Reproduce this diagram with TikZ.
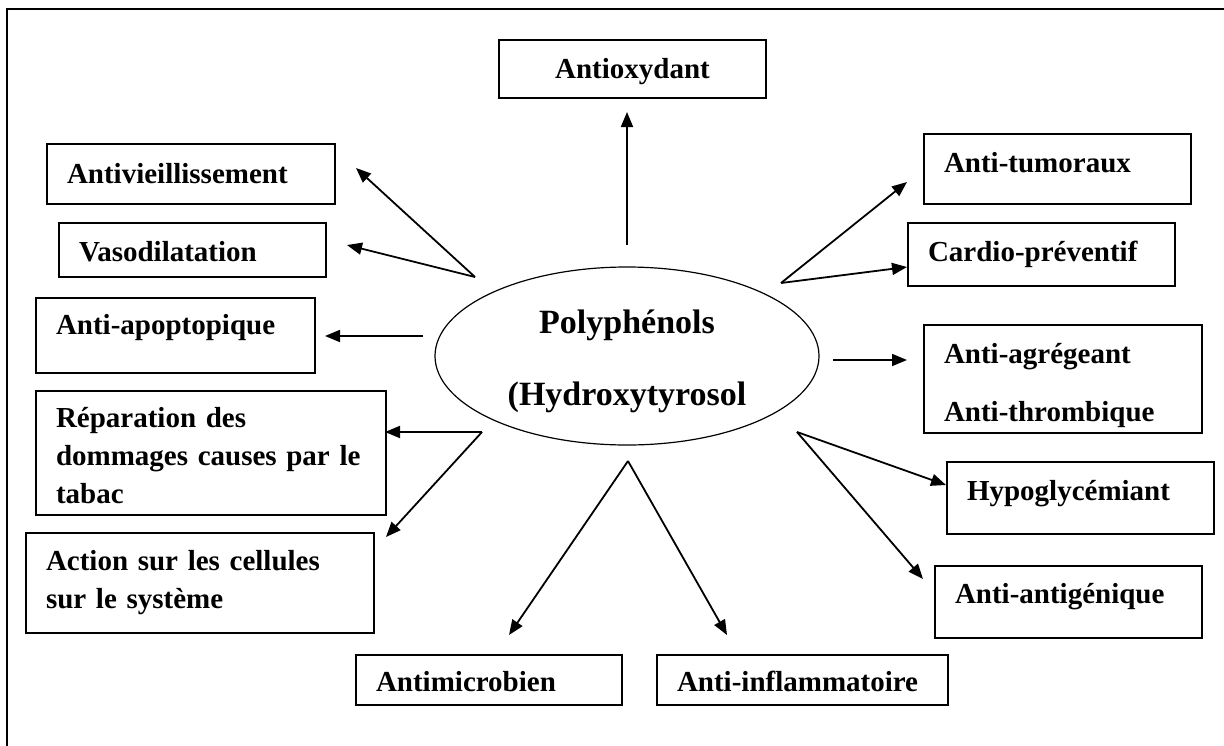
\documentclass[tikz,border=0pt]{standalone}
\usepackage{fontspec}
\setmainfont{Liberation Serif}
\usetikzlibrary{shapes.geometric,arrows.meta}

\begin{document}
\begin{tikzpicture}[x=1pt, y=-1pt,
    box/.style={draw, line width=2pt, anchor=north west, inner xsep=20pt, inner ysep=0pt,
        align=left, font=\bfseries\fontsize{29}{38}\selectfont},
    arr/.style={-{Triangle[length=15pt,width=12pt]}, line width=1.8pt}]
    \useasboundingbox (0,0) rectangle (1224,745);
    \draw[line width=2pt] (7,9) rectangle (1240,760);

    % centre
    \node[ellipse, draw, line width=1.2pt, minimum width=384pt, minimum height=178pt, inner sep=0pt,
        align=center, text width=250pt, text height=26pt, text depth=72pt,
        font=\bfseries\fontsize{34}{38}\selectfont] (poly) at (627,356)
        {Polyphénols\\[34pt](Hydroxytyrosol};

    % left column
    \node[box, text width=248pt, text height=39pt, text depth=21pt] (vie) at (46,143) {Antivieillissement};
    \node[box, text width=227pt, text height=38pt, text depth=16pt] (vaso) at (58,222) {Vasodilatation};
    \node[box, text width=239pt, text height=36pt, text depth=39pt] (apop) at (35,297) {Anti-apoptopique};
    \node[box, text width=310pt, text height=36pt, text depth=88pt] (rep) at (35,390)
        {Réparation des\\dommages causes par le\\tabac};
    \node[box, text width=308pt, text height=37pt, text depth=63pt] (act) at (25,532)
        {Action sur les cellules\\sur le système};

    % top and bottom
    \node[box, align=center, text width=227pt, text height=38pt, text depth=20pt] (ox) at (498,39) {Antioxydant};
    \node[box, text width=226pt, text height=36pt, text depth=14pt] (micro) at (355,654) {Antimicrobien};
    \node[box, text width=251pt, text height=36pt, text depth=14pt] (infl) at (656,654) {Anti-inflammatoire};

    % right column
    \node[box, text width=227pt, text height=38pt, text depth=32pt] (tum) at (923,133) {Anti-tumoraux};
    \node[box, text width=227pt, text height=38pt, text depth=25pt] (card) at (907,222) {Cardio-préventif};
    \node[box, text width=238pt, text height=38pt, text depth=70pt] (agr) at (923,324)
        {Anti-agrégeant\\[20pt]Anti-thrombique};
    \node[box, text width=227pt, text height=38pt, text depth=34pt] (hypo) at (946,461) {Hypoglycémiant};
    \node[box, text width=227pt, text height=37pt, text depth=35pt] (antig) at (934,565) {Anti-antigénique};

    % arrow ends
    \coordinate (fromOx) at (627,245);   \coordinate (toOx) at (627,112);
    \coordinate (fanNW) at (475,277);    \coordinate (toVie) at (356,168);  \coordinate (toVaso) at (347,245);
    \coordinate (fromApop) at (423,336); \coordinate (toApop) at (325,336);
    \coordinate (fanSW) at (482,432);    \coordinate (toRep) at (385,432);  \coordinate (toAct) at (386,537);
    \coordinate (fanS) at (628,461);     \coordinate (toMicro) at (509,635); \coordinate (toInfl) at (727,635);
    \coordinate (fanSE) at (797,432);    \coordinate (toHypo) at (946,485); \coordinate (toAntig) at (923,579);
    \coordinate (fromAgr) at (833,360);  \coordinate (toAgr) at (907,360);
    \coordinate (fanNE) at (781,283);    \coordinate (toTum) at (907,182);  \coordinate (toCard) at (907,267);

    \draw[arr] (fromOx) -- (toOx);
    \draw[arr] (fanNW) -- (toVie);
    \draw[arr] (fanNW) -- (toVaso);
    \draw[arr] (fromApop) -- (toApop);
    \draw[arr] (fanSW) -- (toRep);
    \draw[arr] (fanSW) -- (toAct);
    \draw[arr] (fanS) -- (toMicro);
    \draw[arr] (fanS) -- (toInfl);
    \draw[arr] (fanSE) -- (toHypo);
    \draw[arr] (fanSE) -- (toAntig);
    \draw[arr] (fromAgr) -- (toAgr);
    \draw[arr] (fanNE) -- (toTum);
    \draw[arr] (fanNE) -- (toCard);
\end{tikzpicture}
\end{document}
